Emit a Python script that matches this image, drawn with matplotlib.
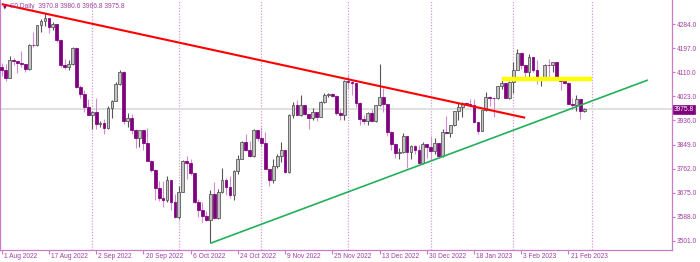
import matplotlib
matplotlib.use('Agg')
import matplotlib.pyplot as plt
import matplotlib.transforms as mtransforms

# ---------------- data ----------------
open_ = [4130.0, 4118.6, 4091.2, 4155.2, 4151.9, 4145.2, 4140.1, 4122.5, 4210.2, 4207.3,
         4280.2, 4297.1, 4305.2, 4274.0, 4283.7, 4228.5, 4138.0, 4128.7, 4140.8, 4199.1,
         4057.7, 4030.6, 3986.2, 3955.0, 3966.9, 3924.3, 3928.0, 3908.2, 3979.9, 4006.2,
         4067.4, 4110.4, 3932.7, 3946.0, 3901.4, 3873.3, 3899.9, 3855.9, 3789.9, 3758.0,
         3693.2, 3655.0, 3647.3, 3719.0, 3640.5, 3585.6, 3678.4, 3790.9, 3783.3, 3744.5,
         3639.7, 3612.4, 3588.8, 3577.0, 3669.9, 3583.1, 3677.95, 3720.0, 3695.2, 3665.8,
         3752.75, 3797.3, 3859.1, 3830.6, 3807.3, 3901.1, 3872.0, 3856.1, 3759.7, 3719.9,
         3770.55, 3806.8, 3828.1, 3748.6, 3956.4, 3992.9, 3957.3, 3991.7, 3958.8, 3946.6,
         3965.3, 3949.9, 4003.6, 4027.3, 4031.0, 4026.1, 3963.9, 3957.6, 4080.1, 4076.6,
         4071.7, 3998.8, 3941.3, 3933.9, 3963.5, 3934.4, 3990.6, 4019.7, 3995.3, 3895.75,
         3852.4, 3817.7, 3821.6, 3878.4, 3822.4, 3844.8, 3829.25, 3783.2, 3849.3, 3839.5,
         3824.1, 3853.0, 3808.1, 3895.1, 3892.1, 3919.25, 3969.6, 3983.2, 3999.1, 3996.0,
         3991.0, 3928.9, 3898.85, 3972.6, 4019.8, 4017.0, 4016.2, 4060.4, 4070.6, 4017.8,
         4076.6, 4119.2, 4179.8, 4136.5, 4111.1, 4164.0, 4117.9, 4081.5, 4090.5, 4137.3,
         4136.1, 4147.6, 4090.4, 4079.1, 4072.0, 3997.3, 3991.05, 4012.3, 3970.8]
high = [4145.0, 4140.5, 4167.7, 4161.3, 4152.0, 4186.6, 4141.0, 4211.0, 4257.9, 4280.5,
        4301.8, 4325.3, 4306.0, 4292.5, 4284.0, 4230.0, 4159.8, 4156.6, 4200.5, 4203.0,
        4063.0, 4045.0, 4015.4, 3970.2, 4018.4, 3935.0, 3942.6, 3987.9, 4010.5, 4076.8,
        4119.3, 4115.0, 3961.9, 3959.1, 3905.0, 3900.5, 3902.0, 3907.1, 3792.0, 3760.0,
        3715.7, 3717.5, 3736.7, 3721.0, 3671.4, 3698.4, 3791.9, 3806.9, 3797.9, 3746.0,
        3652.2, 3640.7, 3608.3, 3685.4, 3712.0, 3689.7, 3762.8, 3728.6, 3736.0, 3757.9,
        3810.7, 3862.85, 3886.15, 3859.95, 3905.4, 3903.0, 3911.8, 3894.4, 3762.0, 3796.3,
        3813.95, 3859.4, 3830.0, 3958.3, 4001.5, 4008.97, 4028.8, 3993.0, 3960.0, 3979.9,
        3967.0, 4005.9, 4033.8, 4035.0, 4034.0, 4028.0, 3976.8, 4082.0, 4100.5, 4080.5,
        4073.0, 4001.5, 3957.6, 3966.7, 3977.0, 3990.7, 4139.0, 4053.8, 3997.0, 3898.0,
        3855.0, 3838.2, 3889.8, 3880.0, 3845.8, 3846.65, 3848.3, 3858.2, 3851.0, 3878.5,
        3873.2, 3855.0, 3906.2, 3950.6, 3919.8, 3970.1, 3997.8, 4003.95, 4004.0, 4015.4,
        4014.2, 3931.0, 3972.96, 4039.3, 4023.9, 4019.55, 4061.6, 4094.2, 4072.0, 4077.2,
        4148.95, 4195.4, 4182.4, 4138.0, 4176.5, 4166.0, 4156.2, 4094.4, 4138.9, 4159.8,
        4148.1, 4149.0, 4092.0, 4082.0, 4074.0, 4017.4, 4028.3, 4014.0, 3980.6]
low = [4096.0, 4079.8, 4091.0, 4135.4, 4107.3, 4129.0, 4112.1, 4120.0, 4201.4, 4205.0,
       4256.9, 4277.8, 4253.1, 4262.0, 4218.7, 4129.9, 4124.0, 4120.0, 4138.0, 4055.0,
       4017.4, 3965.2, 3954.5, 3903.7, 3906.2, 3912.0, 3886.8, 3906.0, 3944.8, 4005.0,
       4065.0, 3921.6, 3912.5, 3888.3, 3837.1, 3838.5, 3827.5, 3789.5, 3749.4, 3647.5,
       3644.8, 3623.3, 3640.6, 3610.4, 3584.1, 3580.0, 3676.0, 3722.7, 3739.2, 3636.7,
       3588.1, 3568.5, 3573.9, 3491.6, 3579.7, 3580.0, 3675.0, 3666.5, 3656.4, 3647.4,
       3741.65, 3795.0, 3824.1, 3803.8, 3805.0, 3863.2, 3843.8, 3758.7, 3698.15, 3708.8,
       3764.7, 3786.3, 3744.2, 3745.0, 3944.8, 3956.4, 3953.2, 3954.3, 3906.5, 3936.0,
       3933.3, 3948.0, 3998.7, 4022.0, 4020.8, 3955.8, 3937.65, 3938.6, 4050.9, 4026.6,
       3984.5, 3918.4, 3922.7, 3921.3, 3933.0, 3930.0, 3988.0, 3965.65, 3879.45, 3827.9,
       3800.0, 3795.6, 3820.0, 3764.5, 3797.0, 3813.2, 3780.8, 3781.0, 3800.3, 3794.3,
       3815.8, 3802.4, 3805.0, 3890.4, 3877.3, 3917.0, 3937.6, 3947.7, 3993.0, 3984.6,
       3926.6, 3885.5, 3897.9, 3971.6, 3989.8, 3949.1, 4013.3, 4048.7, 4015.55, 4015.0,
       4037.2, 4118.0, 4123.4, 4093.4, 4088.4, 4111.7, 4069.7, 4060.8, 4088.0, 4095.0,
       4113.0, 4089.9, 4047.95, 4068.0, 3995.2, 3976.9, 3969.2, 3943.1, 3966.8]
close = [4118.6, 4091.2, 4155.2, 4151.9, 4145.2, 4140.1, 4122.5, 4210.2, 4207.3, 4280.2,
         4297.1, 4305.2, 4274.0, 4283.7, 4228.5, 4138.0, 4128.7, 4140.8, 4199.1, 4057.7,
         4030.6, 3986.2, 3955.0, 3966.9, 3924.3, 3928.0, 3908.2, 3979.9, 4006.2, 4067.4,
         4110.4, 3932.7, 3946.0, 3901.4, 3873.3, 3899.9, 3855.9, 3789.9, 3758.0, 3693.2,
         3655.0, 3647.3, 3719.0, 3640.5, 3585.6, 3678.4, 3790.9, 3783.3, 3744.5, 3639.7,
         3612.4, 3588.8, 3577.0, 3669.9, 3583.1, 3677.95, 3720.0, 3695.2, 3665.8, 3752.75,
         3797.3, 3859.1, 3830.6, 3807.3, 3901.1, 3872.0, 3856.1, 3759.7, 3719.9, 3770.55,
         3806.8, 3828.1, 3748.6, 3956.4, 3992.9, 3957.3, 3991.7, 3958.8, 3946.6, 3965.3,
         3949.9, 4003.6, 4027.3, 4031.0, 4026.1, 3963.9, 3957.6, 4080.1, 4076.6, 4071.7,
         3998.8, 3941.3, 3933.9, 3963.5, 3934.4, 3990.6, 4019.7, 3995.3, 3895.75, 3852.4,
         3817.7, 3821.6, 3878.4, 3822.4, 3844.8, 3829.25, 3783.2, 3849.3, 3839.5, 3824.1,
         3853.0, 3808.1, 3895.1, 3892.1, 3919.25, 3969.6, 3983.2, 3999.1, 3996.0, 3991.0,
         3928.9, 3898.85, 3972.6, 4019.8, 4017.0, 4016.2, 4060.4, 4070.6, 4017.8, 4076.6,
         4119.2, 4179.8, 4136.5, 4111.1, 4164.0, 4117.9, 4081.5, 4090.5, 4137.3, 4136.1,
         4147.6, 4090.4, 4079.1, 4072.0, 3997.3, 3991.05, 4012.3, 3970.0, 3975.8]

tick_bars = [0, 12, 24, 36, 48, 60, 72, 84, 96, 108, 120, 132, 144]
tick_labels = ["1 Aug 2022", "17 Aug 2022", "2 Sep 2022", "20 Sep 2022", "6 Oct 2022",
               "24 Oct 2022", "9 Nov 2022", "25 Nov 2022", "13 Dec 2022", "30 Dec 2022",
               "18 Jan 2023", "3 Feb 2023", "21 Feb 2023"]
month_start_bars = [23, 45, 66, 88, 109, 130, 150]
price_ticks = [4284.0, 4197.0, 4110.0, 4023.0, 3936.0, 3849.0, 3762.0, 3675.0, 3588.0, 3501.0]

red_x = [0, 133]
red_y = [4357.0, 3946.0]
green_x = [53, 164.2]
green_y = [3491.6, 4082.5]
yellow_x = [127, 150]
yellow_y = [4086.8, 4086.8]
last_price = 3975.8
header_symbol = "S0 Daily"
header_ohlc = "3970.8 3980.6 3966.8 3975.8"

# ---------------- style ----------------
PURPLE = '#800080'
TEXT = '#a040a0'
FRAME = '#c77dc7'
FONT = ['Liberation Sans Narrow', 'Liberation Sans', 'DejaVu Sans']
FS = 4.8

plt.rcParams['font.family'] = FONT

fig = plt.figure(figsize=(7.0, 2.62), dpi=100)
fig.patch.set_facecolor('white')
ax = fig.add_axes([0.0, 12.5 / 262, 672 / 700, 249.5 / 262])
ax.set_facecolor('white')

ax.set_xlim(-0.43, 170.3)
ax.set_ylim(3469.2, 4371.9)

# month separators
for b in month_start_bars:
    ax.axvline(b, color='#d59ad5', lw=0.9, ls=(0, (1, 1.3)), zorder=1)

# current price line
ax.axhline(last_price, color='#dadada', lw=1.2, zorder=1)

# candles
n = len(close)
xs = list(range(n))
up_x = [i for i in xs if close[i] >= open_[i]]
dn_x = [i for i in xs if close[i] < open_[i]]

ax.vlines(up_x, [low[i] for i in up_x], [high[i] for i in up_x], color='#555555', lw=0.8, zorder=2)
ax.vlines(dn_x, [low[i] for i in dn_x], [high[i] for i in dn_x], color='#d08ed0', lw=0.8, zorder=2)

def body(i):
    lo = min(open_[i], close[i])
    h = abs(close[i] - open_[i])
    return lo, max(h, 1.5)

ax.bar(up_x, [body(i)[1] for i in up_x], bottom=[body(i)[0] for i in up_x], width=0.7,
       color='#c4c4c4', edgecolor='#505050', lw=0.55, zorder=3)
ax.bar(dn_x, [body(i)[1] for i in dn_x], bottom=[body(i)[0] for i in dn_x], width=0.7,
       color=PURPLE, edgecolor=PURPLE, lw=0.55, zorder=3)

# trend lines and level
ax.plot(red_x, red_y, color='#ff0000', lw=1.5, zorder=5, solid_capstyle='butt')
ax.plot(green_x, green_y, color='#22b05a', lw=1.2, zorder=5, solid_capstyle='butt')
ax.plot(yellow_x, yellow_y, color='#ffff00', lw=3.2, zorder=4, solid_capstyle='butt')

# spines
ax.spines['top'].set_visible(False)
for s in ['left', 'right', 'bottom']:
    ax.spines[s].set_color(FRAME)
    ax.spines[s].set_linewidth(0.9)

# y axis on the right
ax.yaxis.tick_right()
ax.set_yticks(price_ticks)
ax.set_yticklabels(['%.1f' % p for p in price_ticks])
ax.tick_params(axis='y', colors=FRAME, labelcolor=TEXT, labelsize=FS, length=2, width=0.8, pad=1.5,
               direction='out')

# x axis ticks + left aligned labels
ax.set_xticks(tick_bars)
ax.set_xticklabels([''] * len(tick_bars))
ax.tick_params(axis='x', colors=FRAME, length=3, width=0.8, direction='out')
trans = mtransforms.blended_transform_factory(ax.transData, ax.transAxes)
for b, lab in zip(tick_bars, tick_labels):
    ax.text(b + 0.55, -6.8 / 249.5, lab, transform=trans, ha='left', va='center',
            fontsize=FS, color=TEXT)

# header
ax.text(3 / 672, 1 - 6.5 / 249.5, '\u25bc', transform=ax.transAxes, ha='left', va='center',
        fontsize=3.5, color=PURPLE, family=['DejaVu Sans'], zorder=6)
ax.text(10 / 672, 1 - 6.5 / 249.5, header_symbol + '  ' + header_ohlc, transform=ax.transAxes,
        ha='left', va='center', fontsize=FS, color=TEXT, zorder=6)

# current price label
ptrans = mtransforms.blended_transform_factory(ax.transAxes, ax.transData)
ax.text(1.0 + 2 / 672, last_price, '%.1f' % last_price, transform=ptrans, ha='left', va='center',
        fontsize=FS, color='white', zorder=7, clip_on=False,
        bbox=dict(boxstyle='square,pad=0.2', fc=PURPLE, ec=PURPLE, lw=0.5))

fig.savefig('out.png', dpi=100, facecolor='white')
